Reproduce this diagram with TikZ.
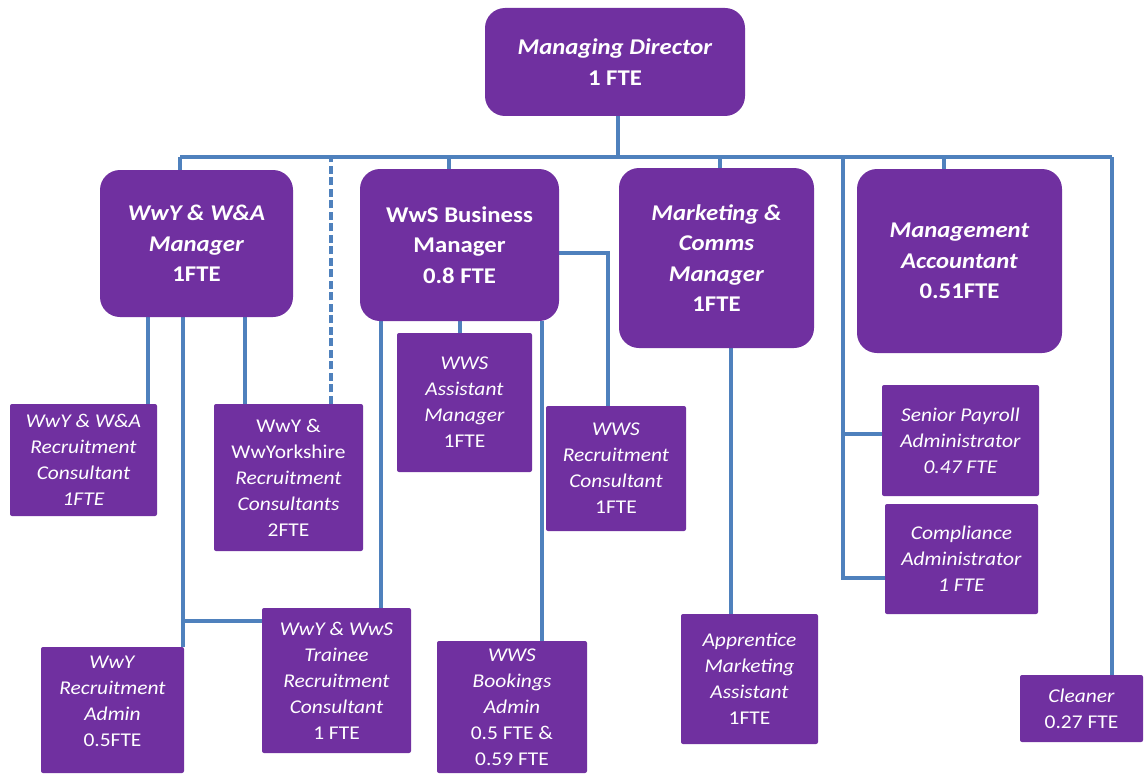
\documentclass[tikz,border=0pt]{standalone}
\usepackage{fontspec}
\setmainfont{Carlito}[FakeStretch=1.1]
\usetikzlibrary{backgrounds}
\definecolor{purp}{HTML}{7030A0}
\definecolor{lineblue}{HTML}{4F81BD}
\begin{document}
\begin{tikzpicture}[x=1pt,y=-1pt,
  bigbox/.style={fill=purp, rounded corners=20pt, text=white, align=center, inner sep=0pt,
    font=\fontsize{22.5}{30.5}\selectfont\bfseries},
  smallbox/.style={fill=purp, rounded corners=2pt, text=white, align=center, inner sep=0pt,
    font=\fontsize{19.5}{26}\selectfont},
  conn/.style={draw=lineblue, line width=3.4pt},
  dconn/.style={conn, dash pattern=on 8pt off 3.5pt}]
\useasboundingbox (0,0) rectangle (1147,773);

% top level
\node[bigbox, minimum width=260pt, minimum height=108pt] (md) at (615,62)
  {\textit{Managing Director}\\1 FTE};

% managers
\node[bigbox, minimum width=193pt, minimum height=147pt] (m1) at (196.5,243.5)
  {\textit{WwY \& W\&A}\\\textit{Manager}\\1FTE};
\node[bigbox, minimum width=199pt, minimum height=152pt] (m2) at (459.5,245)
  {WwS Business\\Manager\\0.8 FTE};
\node[bigbox, minimum width=195pt, minimum height=180pt] (m3) at (716.5,258)
  {\textit{Marketing \&}\\\textit{Comms}\\\textit{Manager}\\1FTE};
\node[bigbox, minimum width=205pt, minimum height=184pt] (m4) at (959.5,261)
  {\textit{Management}\\\textit{Accountant}\\0.51FTE};

% staff
\node[smallbox, minimum width=147pt, minimum height=112pt] (s1) at (83.5,460)
  {\textit{WwY \& W\&A}\\\textit{Recruitment}\\\textit{Consultant}\\\textit{1FTE}};
\node[smallbox, minimum width=149pt, minimum height=147pt] (s2) at (288.5,477.5)
  {WwY \&\\WwYorkshire\\\textit{Recruitment}\\\textit{Consultants}\\2FTE};
\node[smallbox, minimum width=135pt, minimum height=139pt] (s3) at (464.5,402.5)
  {\textit{WWS}\\\textit{Assistant}\\\textit{Manager}\\1FTE};
\node[smallbox, minimum width=140pt, minimum height=125pt] (s4) at (616,468.5)
  {\textit{WWS}\\\textit{Recruitment}\\\textit{Consultant}\\1FTE};
\node[smallbox, minimum width=143pt, minimum height=126pt] (s5) at (112.5,710) {};
\node[smallbox, fill=none] (s5t) at (112.5,701)
  {\textit{WwY}\\\textit{Recruitment}\\\textit{Admin}\\0.5FTE};
\node[smallbox, minimum width=149pt, minimum height=145pt] (s6) at (336.5,680.5)
  {\textit{WwY \& WwS}\\\textit{Trainee}\\\textit{Recruitment}\\\textit{Consultant}\\1 FTE};
\node[smallbox, minimum width=150pt, minimum height=132pt] (s7) at (512,707)
  {\textit{WWS}\\\textit{Bookings}\\\textit{Admin}\\0.5 FTE \&\\0.59 FTE};
\node[smallbox, minimum width=137pt, minimum height=130pt] (s8) at (749.5,679)
  {\textit{Apprentice}\\\textit{Marketing}\\\textit{Assistant}\\1FTE};
\node[smallbox, minimum width=157pt, minimum height=111pt] (s9) at (960.5,440.5)
  {\textit{Senior Payroll}\\\textit{Administrator}\\\textit{0.47 FTE}};
\node[smallbox, minimum width=153pt, minimum height=110pt] (s10) at (961.5,559)
  {\textit{Compliance}\\\textit{Administrator}\\\textit{1 FTE}};
\node[smallbox, minimum width=123pt, minimum height=67pt] (s11) at (1081.5,708.5)
  {\textit{Cleaner}\\0.27 FTE};

\coordinate (busL) at (180,157);
\coordinate (busR) at (1112,157);
\coordinate (busP) at (843,157);
\coordinate (admtop) at ([xshift=70.5pt]s5.north);

\begin{pgfonlayer}{background}
  \fill[white] (0,0) rectangle (1147,773);
  % bus
  \draw[conn] (busL) -- (busR);
  \draw[conn] ([xshift=3pt]md.south) -- ([xshift=3pt]md.south |- busL);
  \draw[conn] (busL) -- (busL |- m1.north);
  \draw[conn] ([xshift=-10.5pt]m2.north) -- ([xshift=-10.5pt]m2.north |- busL);
  \draw[conn] ([xshift=3.5pt]m3.north) -- ([xshift=3.5pt]m3.north |- busL);
  \draw[conn] ([xshift=-15.5pt]m4.north) -- ([xshift=-15.5pt]m4.north |- busL);
  \draw[dconn] ([xshift=42.5pt]s2.north) -- ([xshift=42.5pt]s2.north |- busL);
  \draw[conn] (busR) -- (busR |- s11.north);
  \draw[conn] (busP) |- ([yshift=-19pt]s10.west);
  \draw[conn] ([yshift=6.5pt]s9.west) -- ([yshift=6.5pt]s9.west -| busP);
  % WwY manager
  \draw[conn] ([xshift=64.5pt]s1.north) -- ([xshift=64.5pt]s1.north |- m1.south);
  \draw[conn] ([xshift=-43.5pt]s2.north) -- ([xshift=-43.5pt]s2.north |- m1.south);
  \draw[conn] (admtop) -- (admtop |- m1.south);
  \draw[conn] ([yshift=59.5pt]s6.west) -- ([yshift=59.5pt]s6.west -| admtop);
  % WwS manager
  \draw[conn] ([xshift=44.5pt]s6.north) -- ([xshift=44.5pt]s6.north |- m2.south);
  \draw[conn] ([xshift=-4.5pt]s3.north) -- ([xshift=-4.5pt]s3.north |- m2.south);
  \draw[conn] ([xshift=30pt]s7.north) -- ([xshift=30pt]s7.north |- m2.south);
  \draw[conn] ([yshift=-8pt]m2.east) -| ([xshift=-8pt]s4.north);
  % Marketing
  \draw[conn] ([xshift=-18.5pt]s8.north) -- ([xshift=-18.5pt]s8.north |- m3.south);
\end{pgfonlayer}
\end{tikzpicture}
\end{document}
